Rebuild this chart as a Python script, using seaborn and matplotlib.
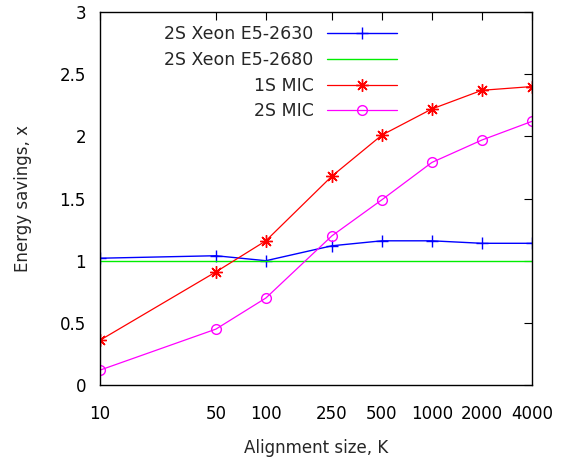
import seaborn as sns
import matplotlib.pyplot as plt
import numpy as np
import pandas as pd

sns.set_style("white")
plt.rcParams['font.family'] = ['DejaVu Sans']

# alignment sizes (K)
sizes = [10, 50, 100, 250, 500, 1000, 2000, 4000]
size_labels = ['10', '50', '100', '250', '500', '1000', '2000', '4000']

xeon_2630 = [1.02, 1.04, 1.00, 1.12, 1.16, 1.16, 1.14, 1.14]
xeon_2680 = [1.00, 1.00, 1.00, 1.00, 1.00, 1.00, 1.00, 1.00]
mic_1s = [0.36, 0.91, 1.16, 1.68, 2.01, 2.22, 2.37, 2.40]
mic_2s = [0.12, 0.45, 0.70, 1.20, 1.49, 1.79, 1.97, 2.12]

fig = plt.figure(figsize=(5.61, 4.59), dpi=100)
ax = fig.add_axes([0.178, 0.161, 0.770, 0.813])

sns.lineplot(x=sizes, y=xeon_2630, ax=ax, color='blue', lw=1,
             marker='+', markersize=8, mew=1, mec='blue',
             label='2S Xeon E5-2630')
sns.lineplot(x=sizes, y=xeon_2680, ax=ax, color='#00ee00', lw=1,
             label='2S Xeon E5-2680')
sns.lineplot(x=sizes, y=mic_1s, ax=ax, color='red', lw=0.9,
             marker=(8, 2, 0), markersize=9, mew=1, mec='red',
             label='1S MIC')
sns.lineplot(x=sizes, y=mic_2s, ax=ax, color='magenta', lw=0.9,
             marker='o', markersize=7, mew=1, mec='magenta', mfc='none',
             label='2S MIC')

ax.set_xscale('log')
ax.set_xlim(10, 4000)
ax.set_ylim(0, 3)
ax.set_xticks(sizes)
ax.set_xticklabels(size_labels)
ax.minorticks_off()
ax.set_yticks([0, 0.5, 1, 1.5, 2, 2.5, 3])
ax.set_yticklabels(['0', '0.5', '1', '1.5', '2', '2.5', '3'])
ax.tick_params(direction='in', length=6, width=0.8, top=True, right=True,
               labelsize=12, pad=10, colors='black')
ax.tick_params(axis='x', pad=14)
for s in ax.spines.values():
    s.set_color('black')
    s.set_linewidth(1)

ax.set_xlabel('Alignment size, K', fontsize=12, labelpad=12)
ax.set_ylabel('Energy savings, x', fontsize=12, labelpad=20)

ax.legend(loc='upper right', bbox_to_anchor=(0.6875, 0.965), frameon=False,
          markerfirst=False, fontsize=12.5, handlelength=4.0,
          labelspacing=0.45, handletextpad=0.8, borderpad=0,
          borderaxespad=0)

fig.savefig('out.png', dpi=100)
